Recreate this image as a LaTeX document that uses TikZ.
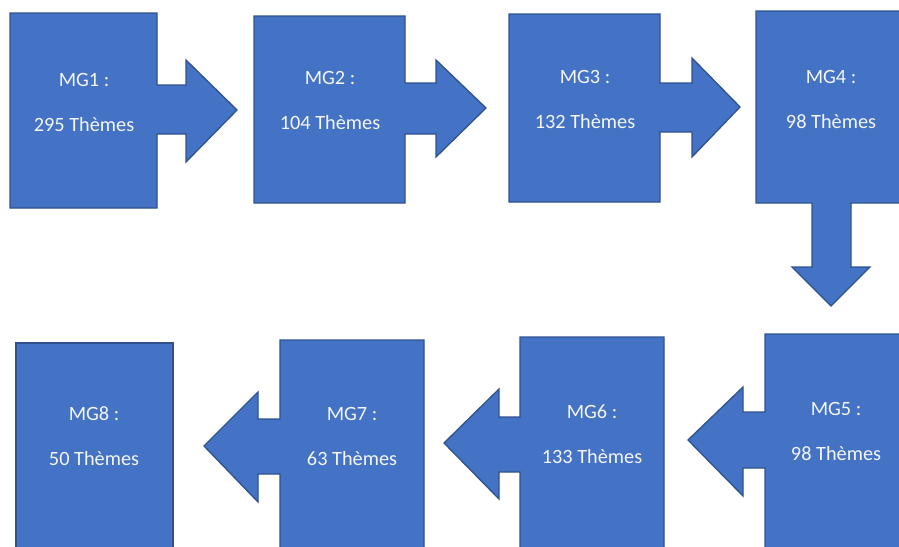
\documentclass[tikz,border=0pt]{standalone}
\usepackage{fontspec}
\setmainfont{Carlito}
\definecolor{mgfill}{HTML}{4472C4}
\definecolor{mgline}{HTML}{2F528F}
\definecolor{mgtext}{HTML}{F4F6FA}
\tikzset{
  mgshape/.style={fill=mgfill, draw=mgline, line width=1.3pt, line join=miter},
  mglabel/.style={text=mgtext, align=center, inner sep=0pt, font=\fontsize{20.3}{45}\selectfont}
}
\begin{document}
\begin{tikzpicture}[x=1pt,y=-1pt]
\useasboundingbox (0,0) rectangle (899,546);
\clip (0,0) rectangle (899,546);
% MG1
\draw[mgshape] (10,13) -- (157,13) -- (157,85) -- (186,85) -- (186,60) -- (237,110) -- (186,162) -- (186,134) -- (157,134) -- (157,208) -- (10,208) -- cycle;
% MG2
\draw[mgshape] (254,16) -- (405,16) -- (405,83) -- (436,83) -- (436,60) -- (486,108) -- (436,157) -- (436,134) -- (405,134) -- (405,203) -- (254,203) -- cycle;
% MG3
\draw[mgshape] (509,14) -- (660,14) -- (660,83) -- (692,83) -- (692,58) -- (740,107) -- (692,157) -- (692,132) -- (660,132) -- (660,202) -- (509,202) -- cycle;
% MG4
\draw[mgshape] (756,11) -- (906,11) -- (906,203) -- (851,203) -- (851,267) -- (870,267) -- (831,306) -- (792,267) -- (812,267) -- (812,203) -- (756,203) -- cycle;
% MG5
\draw[mgshape] (765,334) -- (907,334) -- (907,560) -- (765,560) -- (765,468) -- (743,468) -- (743,496) -- (688,440) -- (743,387) -- (743,412) -- (765,412) -- cycle;
% MG6
\draw[mgshape] (520,337) -- (664,337) -- (664,560) -- (520,560) -- (520,472) -- (499,472) -- (499,499) -- (444,443) -- (499,389) -- (499,417) -- (520,417) -- cycle;
% MG7
\draw[mgshape] (280,340) -- (424,340) -- (424,560) -- (280,560) -- (280,474) -- (258,474) -- (258,502) -- (204,446) -- (258,392) -- (258,419) -- (280,419) -- cycle;
% MG8
\draw[mgshape] (16,343) -- (173,343) -- (173,560) -- (16,560) -- cycle;
% labels
\node[mglabel] (mg1) at (84,102.5) {MG1 :\\295 Thèmes};
\node[mglabel] (mg2) at (330,100.5) {MG2 :\\104 Thèmes};
\node[mglabel] (mg3) at (585,99) {MG3 :\\132 Thèmes};
\node[mglabel] (mg4) at (831,99) {MG4 :\\98 Thèmes};
\node[mglabel] (mg5) at (836,431) {MG5 :\\98 Thèmes};
\node[mglabel] (mg6) at (592,434.5) {MG6 :\\133 Thèmes};
\node[mglabel] (mg7) at (352,436.5) {MG7 :\\63 Thèmes};
\node[mglabel] (mg8) at (94,436) {MG8 :\\50 Thèmes};
\end{tikzpicture}
\end{document}
